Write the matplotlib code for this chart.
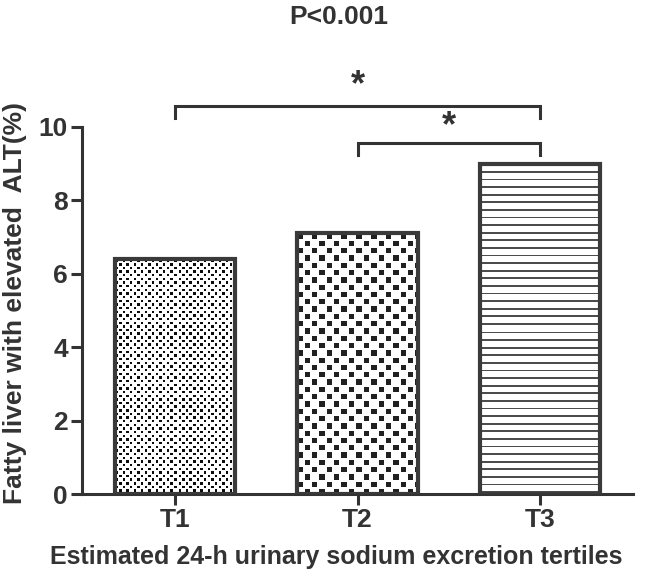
import numpy as np
import matplotlib.pyplot as plt

plt.rcParams['font.family'] = ['Liberation Sans', 'DejaVu Sans']
plt.rcParams['font.weight'] = 'bold'

# data
groups = ['T1', 'T2', 'T3']
alt_pct = [6.4, 7.1, 9.0]
pairs = [(0, 2), (1, 2)]
pair_level = [10.57, 9.56]
pair_mark = ['*', '*']
mark_y = [10.86, 9.75]
p_text = 'P<0.001'

ink = '#333333'
edge = '#3a3a3a'


# fill textures (pixel patterns, clipped to each bar)
def dots(h, w):
    yy, xx = np.mgrid[0:h, 0:w]
    c = 3.65
    on = ((xx % c) < 2.4) & ((yy % c) < 2.4)
    alt = (np.floor(xx / c) + np.floor(yy / c)) % 2 == 0
    return np.where(on & alt, 0.05, 1.0)


def checks(h, w):
    yy, xx = np.mgrid[0:h, 0:w]
    c = 7.3
    on = ((xx % c) < 5.3) & ((yy % c) < 5.3)
    alt = (np.floor(xx / c) + np.floor(yy / c)) % 2 == 0
    return np.where(on & alt, 0.13, 1.0)


def stripes(h, w):
    yy, xx = np.mgrid[0:h, 0:w]
    return np.where((yy % 7.6) < 1.8, 0.3, 1.0)


fig = plt.figure(figsize=(6.66, 5.79), dpi=100)
ax = fig.add_axes([82/666, 85/579, 551/666, 367/579])

x = np.arange(1, len(groups) + 1)
bars = ax.bar(x, alt_pct, width=0.66, facecolor='none', edgecolor=edge,
              linewidth=3, zorder=3, joinstyle='miter')
ax.set_xlim(0.49, 3.51)
ax.set_ylim(0, 10)

for b, f in zip(bars, [dots, checks, stripes]):
    bb = b.get_window_extent()
    img = f(int(round(bb.height)), int(round(bb.width)))
    im = ax.imshow(img, cmap='gray', vmin=0, vmax=1, aspect='auto',
                   interpolation='nearest', zorder=2,
                   extent=(b.get_x(), b.get_x() + b.get_width(), 0, b.get_height()))
    im.set_clip_path(b)

ax.set_xlim(0.49, 3.51)
ax.set_ylim(0, 10)

ax.spines[['top', 'right']].set_visible(False)
for s in ['left', 'bottom']:
    ax.spines[s].set_linewidth(2.2)
    ax.spines[s].set_color(ink)

ax.set_xticks(x)
ax.set_xticklabels(groups)
ax.set_yticks(np.arange(0, 11, 2))
ax.tick_params(direction='out', length=8, width=2.2, color=ink,
               labelsize=19, labelcolor=ink, pad=2)

ax.set_ylabel('Fatty liver with elevated  ALT(%)', fontsize=19,
              fontweight='bold', color=ink)
ax.yaxis.set_label_coords(-0.10, 0.52)
ax.set_xlabel('Estimated 24-h urinary sodium excretion tertiles', fontsize=18,
              fontweight='bold', color=ink)
ax.xaxis.set_label_coords(0.461, -0.139)

# significance brackets
tip = 0.32
for (i, j), lvl, m, my in zip(pairs, pair_level, pair_mark, mark_y):
    x1, x2 = x[i], x[j]
    ax.plot([x1, x1, x2, x2], [lvl - tip, lvl, lvl, lvl - tip], color=ink,
            lw=2.2, clip_on=False, solid_joinstyle='miter')
    ax.text((x1 + x2) / 2, my, m, ha='center', va='baseline', fontsize=26,
            color=ink, clip_on=False)

fig.text(339/666, 1 - 17/579, p_text, ha='center', va='center',
         fontsize=19, color=ink)

plt.savefig('out.png', dpi=100)
